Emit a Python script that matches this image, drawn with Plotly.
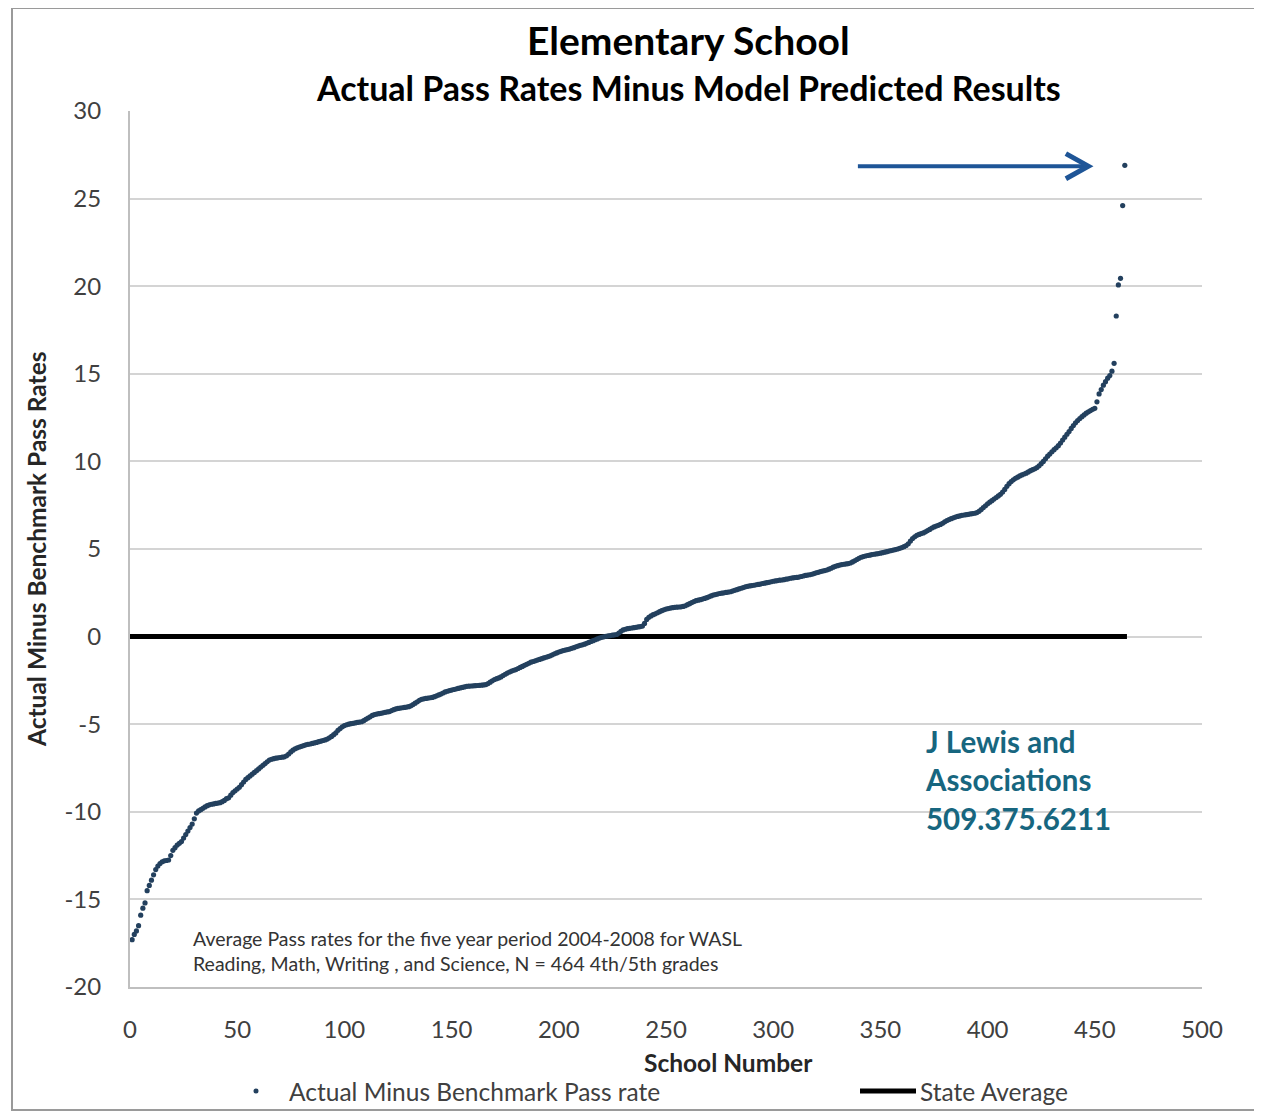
import plotly.graph_objects as go

# Sorted residuals (actual minus benchmark pass rate), schools 1..464
values = [
    -17.3, -17.0, -16.8, -16.5, -15.9, -15.5, -15.2, -14.5, -14.2, -13.9,
    -13.6, -13.3, -13.1, -12.95, -12.85, -12.8, -12.78, -12.75, -12.5, -12.2,
    -12.05, -11.9, -11.8, -11.7, -11.5, -11.3, -11.1, -10.9, -10.7, -10.4,
    -10.07, -9.95, -9.88, -9.8, -9.72, -9.65, -9.6, -9.57, -9.55, -9.52,
    -9.5, -9.48, -9.42, -9.35, -9.25, -9.2, -9.05, -8.9, -8.8, -8.7,
    -8.6, -8.45, -8.3, -8.15, -8.05, -7.95, -7.85, -7.75, -7.65, -7.55,
    -7.45, -7.35, -7.25, -7.15, -7.05, -7.0, -6.97, -6.94, -6.92, -6.9,
    -6.88, -6.86, -6.8, -6.7, -6.58, -6.48, -6.4, -6.35, -6.3, -6.26,
    -6.22, -6.18, -6.15, -6.13, -6.1, -6.07, -6.04, -6.0, -5.97, -5.93,
    -5.9, -5.85, -5.78, -5.7, -5.6, -5.5, -5.35, -5.25, -5.15, -5.08,
    -5.03, -5.0, -4.97, -4.95, -4.93, -4.9, -4.88, -4.86, -4.8, -4.72,
    -4.65, -4.58, -4.5, -4.45, -4.42, -4.4, -4.38, -4.35, -4.32, -4.3,
    -4.28, -4.22, -4.17, -4.13, -4.1, -4.08, -4.06, -4.04, -4.02, -4.0,
    -3.95, -3.88, -3.8, -3.72, -3.64, -3.58, -3.55, -3.53, -3.51, -3.49,
    -3.47, -3.43, -3.38, -3.33, -3.28, -3.22, -3.16, -3.12, -3.08, -3.05,
    -3.02, -2.99, -2.96, -2.93, -2.9, -2.87, -2.84, -2.83, -2.82, -2.81,
    -2.8, -2.79, -2.78, -2.77, -2.76, -2.74, -2.68, -2.6, -2.52, -2.45,
    -2.4, -2.36, -2.3, -2.22, -2.15, -2.08, -2.02, -1.97, -1.92, -1.88,
    -1.82, -1.76, -1.7, -1.64, -1.58, -1.52, -1.46, -1.42, -1.38, -1.34,
    -1.3, -1.26, -1.22, -1.18, -1.14, -1.1, -1.04, -0.98, -0.93, -0.88,
    -0.84, -0.8, -0.77, -0.74, -0.71, -0.67, -0.63, -0.58, -0.54, -0.5,
    -0.47, -0.43, -0.38, -0.33, -0.28, -0.23, -0.18, -0.13, -0.08, -0.04,
    -0.01, 0.02, 0.04, 0.06, 0.08, 0.1, 0.12, 0.2, 0.3, 0.38,
    0.42, 0.45, 0.47, 0.49, 0.51, 0.53, 0.55, 0.57, 0.6, 0.75,
    0.98, 1.1, 1.18, 1.25, 1.3, 1.36, 1.42, 1.48, 1.53, 1.57,
    1.6, 1.63, 1.65, 1.67, 1.68, 1.69, 1.7, 1.72, 1.76, 1.82,
    1.88, 1.94, 2.0, 2.05, 2.08, 2.11, 2.14, 2.18, 2.22, 2.27,
    2.32, 2.37, 2.4, 2.43, 2.46, 2.48, 2.5, 2.52, 2.54, 2.56,
    2.6, 2.64, 2.68, 2.72, 2.76, 2.8, 2.84, 2.87, 2.89, 2.91,
    2.93, 2.96, 2.98, 3.0, 3.03, 3.05, 3.08, 3.1, 3.13, 3.16,
    3.18, 3.2, 3.22, 3.23, 3.25, 3.28, 3.3, 3.33, 3.35, 3.37,
    3.38, 3.4, 3.43, 3.46, 3.49, 3.51, 3.53, 3.56, 3.6, 3.64,
    3.67, 3.71, 3.74, 3.77, 3.8, 3.85, 3.9, 3.96, 4.01, 4.05,
    4.08, 4.11, 4.13, 4.15, 4.17, 4.2, 4.26, 4.33, 4.4, 4.47,
    4.53, 4.57, 4.6, 4.63, 4.65, 4.68, 4.7, 4.72, 4.74, 4.76,
    4.79, 4.82, 4.85, 4.88, 4.91, 4.94, 4.97, 5.0, 5.04, 5.08,
    5.13, 5.2, 5.3, 5.45, 5.6, 5.7, 5.78, 5.83, 5.88, 5.92,
    5.98, 6.05, 6.12, 6.2, 6.26, 6.31, 6.35, 6.4, 6.47, 6.55,
    6.62, 6.68, 6.73, 6.78, 6.82, 6.86, 6.89, 6.92, 6.94, 6.96,
    6.98, 7.0, 7.02, 7.04, 7.08, 7.15, 7.25, 7.36, 7.47, 7.58,
    7.67, 7.76, 7.85, 7.94, 8.03, 8.12, 8.25, 8.4, 8.58, 8.73,
    8.85, 8.95, 9.03, 9.1, 9.17, 9.23, 9.28, 9.33, 9.4, 9.47,
    9.53, 9.58, 9.65, 9.75, 9.87, 10.0, 10.15, 10.3, 10.42, 10.55,
    10.67, 10.78, 10.9, 11.05, 11.22, 11.38, 11.55, 11.7, 11.88, 12.05,
    12.2, 12.33, 12.45, 12.55, 12.65, 12.75, 12.83, 12.9, 12.97, 13.03,
    13.4, 13.85, 14.1, 14.35, 14.55, 14.75, 14.9, 15.15, 15.6, 18.3,
    20.07, 20.45, 24.6, 26.9,
]
school_numbers = list(range(1, len(values) + 1))

state_avg_x = [0, 465]
state_avg_y = [0, 0]

x_ticks = [0, 50, 100, 150, 200, 250, 300, 350, 400, 450, 500]
y_ticks = [-20, -15, -10, -5, 0, 5, 10, 15, 20, 25, 30]

arrow_tail = (339.5, 26.85)
arrow_head = (447.0, 26.85)
chevron_dx, chevron_dy = 10.5, 0.72

FONT = "Lato"
TICK_COLOR = "#404040"
DOT_COLOR = "#23405E"
ARROW_COLOR = "#1E5597"

fig = go.Figure()
fig.add_trace(go.Scatter(
    x=state_avg_x, y=state_avg_y, mode="lines", name="State Average",
    line=dict(color="black", width=5), showlegend=False,
))
fig.add_trace(go.Scatter(
    x=school_numbers, y=values, mode="markers",
    name="Actual Minus Benchmark Pass rate",
    marker=dict(color=DOT_COLOR, size=5.2), showlegend=False,
))

# page body has an 8px margin: figure is placed at screen (8, 8)
W, H = 1254, 1108
PL, PR, PT, PB = 130, 1202, 111, 987          # plot area in screen pixels
L, R, T, B = PL - 8, W - (PR - 8), PT - 8, H - (PB - 8)


def px_x(p):
    return (p - PL) / (PR - PL)


def px_y(p):
    return (PB - p) / (PB - PT)


annotations = [
    dict(text="<b>Elementary School</b>", x=px_x(688), y=px_y(40), xref="paper", yref="paper",
         showarrow=False, font=dict(family=FONT, size=39, color="black"), xanchor="center", yanchor="middle"),
    dict(text="<b>Actual Pass Rates Minus Model Predicted Results</b>", x=px_x(688), y=px_y(88),
         xref="paper", yref="paper", showarrow=False,
         font=dict(family=FONT, size=34, color="black"), xanchor="center", yanchor="middle"),
    dict(text="<b>J Lewis and<br>Associations<br>509.375.6211</b>", x=px_x(923), y=px_y(722),
         xref="paper", yref="paper", showarrow=False, align="left",
         font=dict(family=FONT, size=29.5, color="#17667F"), xanchor="left", yanchor="top"),
    dict(text="Average Pass rates for the five year period 2004-2008 for WASL<br>"
              "Reading, Math, Writing , and Science, N = 464 4th/5th grades",
         x=px_x(191), y=px_y(925), xref="paper", yref="paper", showarrow=False, align="left",
         font=dict(family=FONT, size=19.5, color="#333333"), xanchor="left", yanchor="top"),
    dict(text="<b>School Number</b>", x=px_x(728), y=px_y(1062), xref="paper", yref="paper",
         showarrow=False, font=dict(family=FONT, size=24.5, color="#262626"), xanchor="center", yanchor="middle"),
    dict(text="<b>Actual Minus Benchmark Pass Rates</b>", x=px_x(36), y=px_y(549), xref="paper", yref="paper",
         showarrow=False, textangle=-90,
         font=dict(family=FONT, size=24.5, color="#262626"), xanchor="center", yanchor="middle"),
    dict(text="Actual Minus Benchmark Pass rate", x=px_x(287), y=px_y(1091), xref="paper", yref="paper",
         showarrow=False, font=dict(family=FONT, size=24.5, color=TICK_COLOR), xanchor="left", yanchor="middle"),
    dict(text="State Average", x=px_x(918), y=px_y(1091), xref="paper", yref="paper",
         showarrow=False, font=dict(family=FONT, size=24.5, color=TICK_COLOR), xanchor="left", yanchor="middle"),
]

shapes = [
    dict(type="rect", xref="paper", yref="paper", x0=px_x(12), x1=px_x(1259), y0=px_y(1110), y1=px_y(8),
         line=dict(color="#9a9a9a", width=2), layer="below"),
    dict(type="line", xref="paper", yref="paper", x0=px_x(860), x1=px_x(916), y0=px_y(1091), y1=px_y(1091),
         line=dict(color="black", width=5)),
    dict(type="circle", xref="paper", yref="paper", x0=px_x(253.5), x1=px_x(258.5),
         y0=px_y(1093.5), y1=px_y(1088.5), fillcolor=DOT_COLOR, line=dict(width=0)),
    # arrow shaft and open chevron head
    dict(type="line", xref="x", yref="y", x0=arrow_tail[0], y0=arrow_tail[1],
         x1=arrow_head[0] - 1, y1=arrow_head[1], line=dict(color=ARROW_COLOR, width=4)),
    dict(type="path", xref="x", yref="y",
         path=f"M {arrow_head[0]-chevron_dx},{arrow_head[1]+chevron_dy} L {arrow_head[0]},{arrow_head[1]} "
              f"L {arrow_head[0]-chevron_dx},{arrow_head[1]-chevron_dy}",
         line=dict(color=ARROW_COLOR, width=5)),
]

fig.update_layout(
    width=W, height=H,
    margin=dict(l=L, r=R, t=T, b=B, pad=0),
    paper_bgcolor="white", plot_bgcolor="white",
    font=dict(family=FONT, color=TICK_COLOR),
    annotations=annotations, shapes=shapes,
    showlegend=False,
)
fig.update_xaxes(
    range=[0, 500], tickvals=x_ticks, ticktext=[str(v) for v in x_ticks],
    tickfont=dict(size=24, color=TICK_COLOR), ticks="", showgrid=False, ticklabelstandoff=20,
    showline=True, linecolor="#bfbfbf", linewidth=2, zeroline=False,
)
fig.update_yaxes(
    range=[-20, 30], tickvals=y_ticks, ticktext=[str(v) for v in y_ticks],
    tickfont=dict(size=24, color=TICK_COLOR), ticks="", showgrid=True, gridcolor="#d4d4d4", gridwidth=2,
    ticklabelstandoff=22,
    showline=True, linecolor="#bfbfbf", linewidth=2, zeroline=False,
)

fig.write_html("out.html")
